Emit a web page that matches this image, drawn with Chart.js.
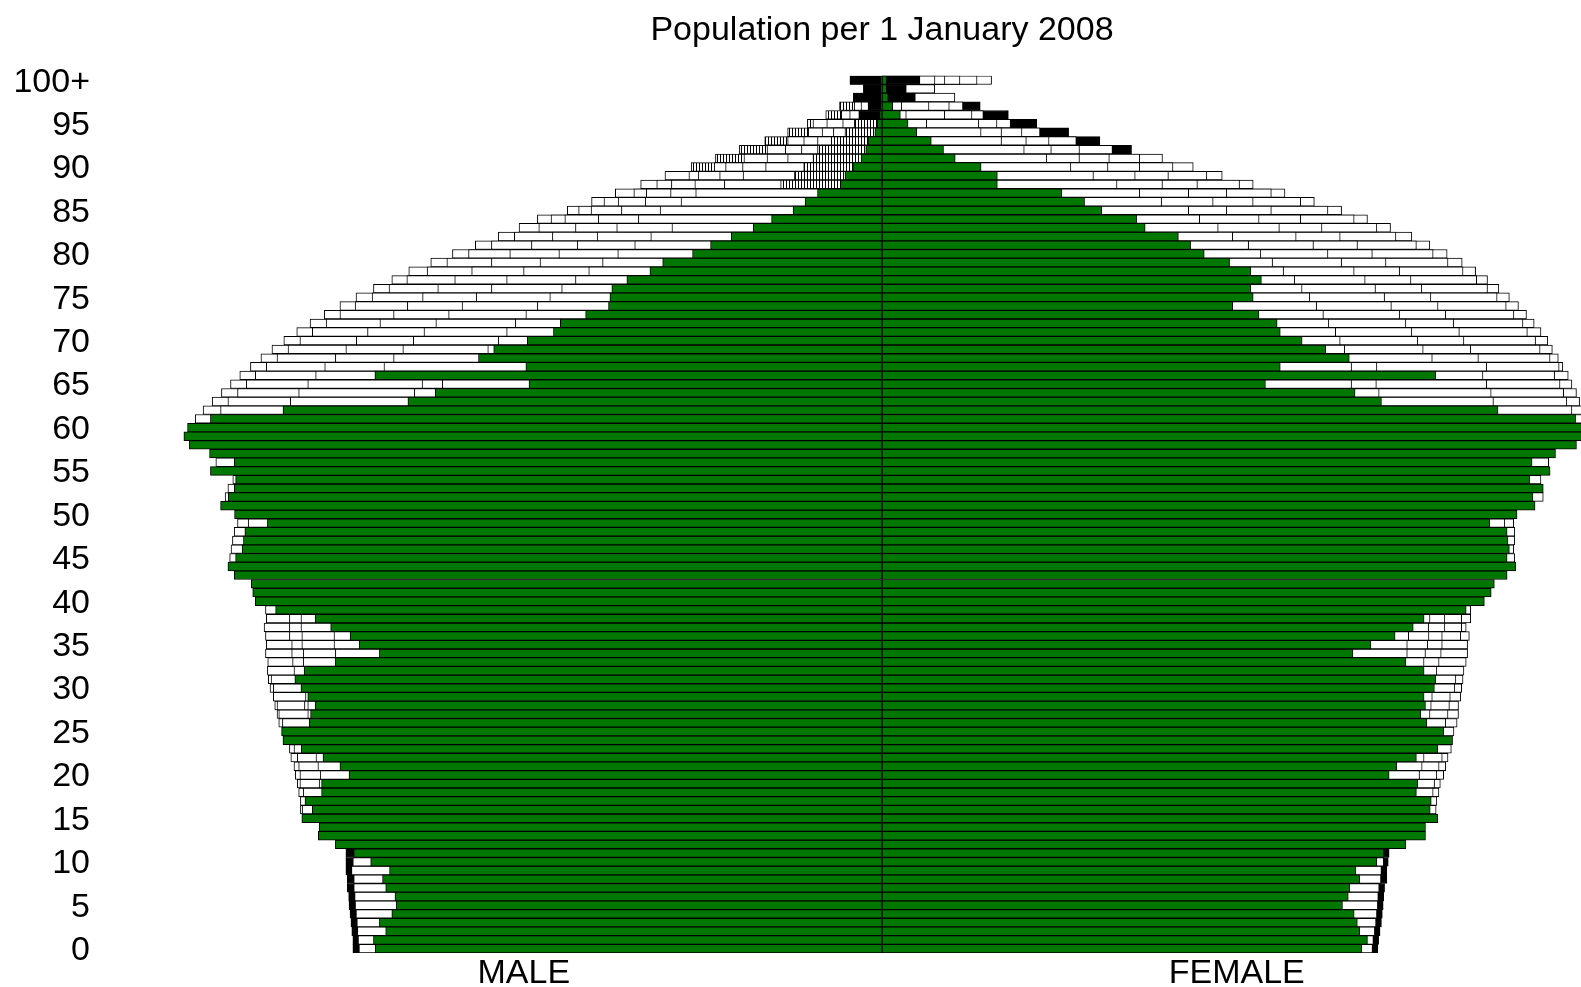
<!DOCTYPE html>
<html>
<head>
<meta charset="utf-8">
<title>Population per 1 January 2008</title>
<script src="https://cdn.jsdelivr.net/npm/chart.js@4.4.0/dist/chart.umd.min.js"></script>
<style>
  html, body { margin: 0; padding: 0; background: #fff; }
  #wrap { width: 1581px; height: 987px; position: relative; }
</style>
</head>
<body>
<div id="wrap"><canvas id="pyramid"></canvas></div>
<script>
// population in thousands, index = age (0 .. 100+)
var titleText = 'Population per 1 January 2008';
var sideLabels = ['MALE', 'FEMALE'];
var sideTickValues = [-20.5, 20.3];
var ageLabels = [];
for (var a = 0; a <= 100; a++) ageLabels.push(a === 100 ? '100+' : String(a));

// 2008 (green)
var maleGreen = [
  29.00, 29.10, 28.40, 28.76, 28.05, 27.79, 27.87, 28.40, 28.58, 28.18,
  29.26, 30.23, 31.28, 32.26, 32.21, 33.20, 32.60, 33.02, 32.07, 32.07,
  30.50, 31.02, 31.99, 33.23, 34.28, 34.36, 32.78, 32.70, 32.44, 32.86,
  33.25, 33.60, 33.07, 31.28, 28.76, 29.92, 30.44, 31.55, 32.44, 34.70,
  35.86, 36.01, 36.09, 37.07, 37.43, 36.99, 36.62, 36.54, 36.46, 35.17,
  37.05, 37.85, 37.41, 37.07, 36.99, 38.43, 37.07, 38.48, 39.64, 39.95,
  39.74, 38.43, 34.28, 27.13, 25.56, 20.20, 29.02, 20.38, 23.09, 22.22,
  20.30, 18.80, 18.41, 16.96, 15.65, 15.57, 15.46, 14.60, 13.28, 12.55,
  10.84, 9.81, 8.63, 7.37, 6.32, 5.09, 4.40, 3.69, 2.38, 2.12,
  1.67, 1.20, 0.93, 0.80, 0.41, 0.27, 0.14, 0.07, 0.05, 0.05,
  0.05
];
var femaleGreen = [
  27.46, 27.78, 27.34, 27.20, 27.02, 26.35, 26.68, 26.76, 27.34, 27.12,
  28.32, 28.71, 29.98, 31.10, 31.10, 31.80, 31.37, 31.43, 30.58, 30.66,
  29.02, 29.46, 30.58, 31.80, 32.65, 32.14, 31.18, 30.84, 31.10, 31.02,
  31.61, 31.69, 31.02, 29.98, 26.95, 27.98, 29.36, 30.40, 31.02, 33.43,
  34.47, 34.86, 35.04, 35.77, 36.27, 35.77, 35.90, 35.82, 35.77, 34.78,
  36.34, 37.37, 37.25, 37.84, 37.06, 38.23, 37.20, 38.54, 39.74, 40.60,
  40.50, 39.69, 35.25, 28.58, 27.07, 21.94, 31.69, 22.79, 26.74, 25.39,
  24.04, 22.79, 22.61, 21.57, 20.07, 21.24, 21.11, 21.71, 21.11, 19.89,
  18.44, 17.66, 16.96, 15.06, 14.57, 12.57, 11.59, 10.29, 6.60, 6.60,
  5.67, 4.19, 3.52, 2.82, 1.99, 1.49, 1.05, 0.61, 0.35, 0.27,
  0.27
];

// earlier sizes of each cohort (white bars), outermost first
var maleEnv = [
  30.28, 30.28, 30.34, 30.39, 30.44, 30.50, 30.52, 30.60, 30.60, 30.68,
  30.68, 30.68, null, null, null, null, 33.28, 33.28, 33.38, 33.46,
  33.57, 33.65, 33.83, 33.91, null, null, 34.52, 34.62, 34.75, 34.83,
  35.02, 35.12, 35.17, 35.15, 35.28, 35.23, 35.28, 35.36, 35.23, 35.28,
  null, null, null, null, null, 37.33, 37.25, 37.17, 37.07, 36.88,
  null, null, 37.59, 37.43, 37.15, null, 38.12, null, null, null,
  null, 39.30, 38.85, 38.33, 37.80, 37.28, 36.75, 36.14, 35.54, 34.91,
  34.23, 33.49, 32.73, 31.91, 31.02, 30.10, 29.10, 28.05, 27.08, 25.82,
  24.58, 23.27, 21.96, 20.77, 19.72, 18.01, 16.62, 15.26, 13.81, 12.42,
  10.92, 9.53, 8.16, 6.71, 5.40, 4.27, 3.22, 2.43, 1.64, 1.06,
  1.83
];
var maleW1 = [
  29.93, 29.98, 30.02, 30.05, 30.10, 30.15, 30.18, 30.23, 30.23, 30.36,
  30.28, null, null, null, null, null, 33.18, null, 33.12, 33.31,
  33.31, 33.38, 33.46, 33.65, null, null, 34.31, 34.52, 34.62, 32.99,
  34.83, 34.96, 33.65, 33.73, 33.78, 33.78, 33.91, 33.91, 33.91, null,
  null, null, null, null, null, null, null, null, null, 36.27,
  null, null, null, null, null, null, null, null, null, null,
  null, null, 37.85, 37.43, 36.88, 36.38, 35.86, 35.23, 34.62, 33.99,
  33.31, 32.60, 31.81, 31.02, 30.15, 29.18, 28.21, 27.19, 26.03, 24.90,
  23.66, 22.35, 21.04, 19.64, 18.94, 17.36, 15.91, 14.20, 12.89, 11.05,
  9.60, 7.90, 6.58, 5.40, 4.22, 3.95, 2.33, 1.59, null, null,
  null
];
var maleW2 = [
  null, null, null, null, null, null, null, null, null, null,
  null, null, null, null, null, null, null, null, null, 32.21,
  32.15, 32.28, 32.39, null, null, null, null, 32.86, 33.05, null,
  null, null, null, 33.12, 33.12, 33.20, 33.20, 33.25, 33.25, null,
  null, null, null, null, null, null, null, null, null, null,
  null, null, null, null, null, null, null, null, null, null,
  null, null, null, 33.86, 33.38, 32.86, 32.41, 31.89, 31.28, 30.68,
  30.08, 29.44, 28.73, 27.95, 27.16, 26.29, 25.42, 24.45, 23.48, 22.35,
  21.30, 20.06, 18.86, 17.54, 18.15, 16.65, 15.10, 13.49, 12.05, 10.52,
  8.95, 6.58, 5.53, 4.48, 3.43, 3.16, 1.85, 1.20, null, null,
  null
];
var maleW3 = [
  null, null, null, null, null, null, null, null, null, null,
  null, null, null, null, null, null, null, null, null, null,
  null, null, null, null, null, null, null, null, 32.86, null,
  null, null, null, null, 31.28, 31.36, 31.36, null, null, null,
  null, null, null, null, null, null, null, null, null, null,
  null, null, null, null, null, null, null, null, null, null,
  null, null, null, null, 26.76, 26.32, null, 28.50, 27.95, 27.42,
  26.82, 26.21, 25.53, 24.80, 24.03, 23.22, 22.35, 21.48, 20.51, 19.57,
  18.49, 17.44, 16.30, 15.18, 16.23, 14.91, 13.55, 12.10, 10.71, 9.29,
  7.98, 5.40, 4.61, 3.69, 2.78, 2.25, null, null, null, null,
  null
];
var maleW4 = [
  null, null, null, null, null, null, null, null, null, null,
  null, null, null, null, null, null, null, null, null, null,
  null, null, null, null, null, null, null, null, null, null,
  null, null, null, null, null, null, null, null, null, null,
  null, null, null, null, null, null, null, null, null, null,
  null, null, null, null, null, null, null, null, null, null,
  null, null, null, null, null, 25.16, null, null, null, 22.56,
  21.96, 21.48, 20.98, 20.38, 19.72, 19.01, 18.33, 17.54, 16.78, 15.99,
  15.12, 14.15, 13.23, 12.02, 13.94, 12.70, 11.50, 10.66, 9.02, 7.95,
  6.66, null, null, null, null, null, null, null, null, null,
  null
];
var maleDark = [
  null, null, null, null, null, null, null, null, null, null,
  null, null, null, null, null, null, null, null, null, null,
  null, null, null, null, null, null, null, null, null, null,
  null, null, null, null, null, null, null, null, null, null,
  null, null, null, null, null, null, null, null, null, null,
  null, null, null, null, null, null, null, null, null, null,
  null, null, null, null, null, null, null, null, null, null,
  null, null, null, null, null, null, null, null, null, null,
  null, null, null, null, null, null, null, null, 5.80, 5.01,
  4.48, 3.95, 3.69, 2.91, 2.12, 1.59, 1.33, 0.80, 1.64, 1.06,
  1.83
];

var femaleEnv = [
  28.37, 28.42, 28.50, 28.58, 28.63, 28.68, 28.71, 28.76, 28.89, 28.89,
  28.97, 29.02, null, null, null, null, 31.71, 31.75, 31.87, 31.95,
  32.14, 32.26, 32.39, 32.58, null, 32.73, 32.91, 32.99, 32.99, 33.12,
  33.17, 33.25, 33.30, 33.43, 33.51, 33.51, 33.61, 33.43, 33.69, 33.69,
  null, null, null, null, null, 36.21, 36.15, 36.21, 36.21, 36.15,
  null, null, 37.84, null, 37.71, null, 38.15, null, null, null,
  null, 40.30, 40.30, 39.92, 39.74, 39.48, 39.27, 38.96, 38.70, 38.36,
  38.10, 37.71, 37.32, 36.88, 36.42, 35.90, 35.30, 34.65, 33.97, 33.20,
  32.34, 31.35, 30.32, 29.10, 27.78, 26.30, 24.74, 23.06, 21.24, 19.47,
  17.81, 16.05, 14.28, 12.47, 10.68, 8.86, 7.23, 5.62, 4.17, 3.02,
  6.27
];
var femaleW1 = [
  28.07, 28.12, 28.20, 28.27, 28.32, 28.37, 28.40, 28.45, 28.55, 28.58,
  28.71, null, null, null, null, null, null, null, 31.54, 31.62,
  31.75, 31.88, 32.06, null, null, null, 32.26, 32.39, 32.47, 32.52,
  32.78, 32.84, 31.75, 31.88, 32.00, 32.06, 33.12, 33.17, 33.17, null,
  null, null, null, null, null, null, null, null, null, 35.64,
  null, null, null, null, null, null, null, null, null, null,
  null, null, 39.48, 39.19, 39.01, 38.80, 38.49, 38.75, 38.23, 37.66,
  37.40, 36.93, 36.68, 36.16, 35.72, 35.20, 34.65, 34.03, 33.25, 32.39,
  31.54, 30.58, 29.41, 28.32, 27.02, 25.52, 23.96, 22.28, 20.46, 18.59,
  16.65, 14.75, 13.19, 11.12, 9.04, 7.36, 5.80, 4.63, null, null,
  5.44
];
var femaleW2 = [
  null, null, null, null, null, null, null, null, null, null,
  null, null, null, null, null, null, null, null, null, null,
  30.76, 30.91, 31.02, null, null, null, null, 31.36, 31.43, 31.49,
  null, null, null, 31.02, 31.10, 31.23, 32.06, 32.21, 32.21, null,
  null, null, null, null, null, null, null, null, null, null,
  null, null, null, null, null, null, null, null, null, null,
  null, null, null, 34.99, 34.86, 34.60, 34.39, 34.60, 34.13, 33.69,
  33.30, 33.04, 32.71, 32.26, 31.82, 31.41, 30.89, 30.27, 29.62, 28.84,
  28.06, 27.21, 26.22, 25.18, 23.96, 22.28, 21.24, 19.73, 18.05, 16.39,
  14.75, 13.01, 11.30, 9.56, 8.01, 6.58, 5.15, 3.85, null, null,
  4.46
];
var femaleW3 = [
  null, null, null, null, null, null, null, null, null, null,
  null, null, null, null, null, null, null, null, null, null,
  null, null, null, null, null, null, null, null, null, null,
  null, null, null, null, 30.06, 30.06, 31.30, 31.28, 31.36, null,
  null, null, null, null, null, null, null, null, null, null,
  null, null, null, null, null, null, null, null, null, null,
  null, null, null, null, 28.45, 28.29, null, 28.32, 31.49, 30.97,
  30.66, 30.32, 29.98, 29.62, 29.15, 28.76, 28.24, 27.65, 27.02, 26.30,
  25.52, 24.69, 23.70, 22.74, 21.58, 19.73, 18.95, 17.55, 16.05, 14.49,
  12.93, 11.30, 9.69, 8.26, 6.84, 5.54, 3.59, 2.69, null, null,
  3.60
];
var femaleW4 = [
  null, null, null, null, null, null, null, null, null, null,
  null, null, null, null, null, null, null, null, null, null,
  null, null, null, null, null, null, null, null, null, null,
  null, null, null, null, null, null, 30.14, null, null, null,
  null, null, null, null, null, null, null, null, null, null,
  null, null, null, null, null, null, null, null, null, null,
  null, null, null, null, null, 26.87, null, 26.87, null, 26.48,
  26.22, 25.96, 25.57, 25.26, 24.87, 24.48, 24.04, 23.62, 22.98, 22.35,
  21.68, 20.98, 20.07, 19.24, 18.18, 17.55, 16.00, 14.75, 13.45, 12.10,
  10.81, 9.43, 8.14, 6.84, 5.67, 2.56, 1.39, 1.13, null, null,
  3.03
];
var femaleDark = [
  null, null, null, null, null, null, null, null, null, null,
  null, null, null, null, null, null, null, null, null, null,
  null, null, null, null, null, null, null, null, null, null,
  null, null, null, null, null, null, null, null, null, null,
  null, null, null, null, null, null, null, null, null, null,
  null, null, null, null, null, null, null, null, null, null,
  null, null, null, null, null, null, null, null, null, null,
  null, null, null, null, null, null, null, null, null, null,
  null, null, null, null, null, null, null, null, null, null,
  null, null, null, null, null, null, null, null, 1.91, 1.39,
  2.17
];

var GREEN = '#007800';
var FONT = '"Liberation Sans", Arial, sans-serif';

// thin vertical hatching for the dense zones where many cohort lines pile up
function makeStripes() {
  var c = document.createElement('canvas');
  c.width = 3; c.height = 1;
  var g = c.getContext('2d');
  g.fillStyle = '#fff'; g.fillRect(0, 0, 3, 1);
  g.fillStyle = '#000'; g.fillRect(0, 0, 1, 1);
  return g.createPattern(c, 'repeat');
}
var stripes = makeStripes();

function maleOuterColor(age) {
  if (age <= 11 || age >= 98) return '#000';
  if (age >= 90) return stripes;
  return '#fff';
}
function femaleOuterColor(age) {
  if (age <= 11 || (age >= 92 && age <= 97)) return '#000';
  return '#fff';
}
function maleDarkColor(age) {
  return age >= 96 ? '#000' : stripes;
}

function bar(label, values, sign, color) {
  return {
    label: label,
    data: values.map(function (v) { return v == null ? null : sign * v; }),
    backgroundColor: typeof color === 'function'
      ? function (ctx) { return color(ctx.dataIndex); }
      : color,
    borderColor: '#000',
    borderWidth: 1,
    borderSkipped: false,
    grouped: false,
    barPercentage: 1,
    categoryPercentage: 1
  };
}

// first dataset is drawn on top
var datasets = [
  bar('male 2008', maleGreen, -1, GREEN),
  bar('female 2008', femaleGreen, 1, GREEN),
  bar('male dense', maleDark, -1, maleDarkColor),
  bar('female dense', femaleDark, 1, '#000'),
  bar('male w4', maleW4, -1, '#fff'),
  bar('female w4', femaleW4, 1, '#fff'),
  bar('male w3', maleW3, -1, '#fff'),
  bar('female w3', femaleW3, 1, '#fff'),
  bar('male w2', maleW2, -1, '#fff'),
  bar('female w2', femaleW2, 1, '#fff'),
  bar('male w1', maleW1, -1, '#fff'),
  bar('female w1', femaleW1, 1, '#fff'),
  bar('male outer', maleEnv, -1, maleOuterColor),
  bar('female outer', femaleEnv, 1, femaleOuterColor)
];

var ctx = document.getElementById('pyramid');
var chart = new Chart(ctx, {
  type: 'bar',
  data: { labels: ageLabels, datasets: datasets },
  options: {
    indexAxis: 'y',
    responsive: true,
    maintainAspectRatio: false,
    animation: false,
    layout: { padding: 0 },
    plugins: {
      legend: { display: false },
      tooltip: { enabled: false },
      title: {
        display: true,
        text: titleText,
        fullSize: false,
        color: '#000',
        font: { family: FONT, size: 34, weight: 'normal', lineHeight: 1.2 },
        padding: { top: 10, bottom: 25 }
      }
    },
    scales: {
      x: {
        type: 'linear',
        min: -40,
        max: 40,
        grid: { display: false, drawTicks: false },
        border: { display: false },
        afterBuildTicks: function (s) {
          s.ticks = sideTickValues.map(function (v) { return { value: v }; });
        },
        afterFit: function (s) { s.height = 34; },
        ticks: {
          autoSkip: false,
          maxRotation: 0,
          padding: 4,
          color: '#000',
          font: { family: FONT, size: 34, lineHeight: 1 },
          callback: function (v, i) { return sideLabels[i]; }
        }
      },
      y: {
        reverse: true,
        grid: { display: false, drawTicks: false },
        border: { display: false },
        afterFit: function (s) {
          s.width = 183;
          s.paddingTop = 0;
          s.paddingBottom = 0;
        },
        ticks: {
          autoSkip: false,
          padding: 93,
          labelOffset: 2,
          color: '#000',
          font: { family: FONT, size: 34, lineHeight: 1.2 },
          callback: function (v, i) { return i % 5 === 0 ? ageLabels[i] : ''; }
        }
      }
    }
  }
});
</script>
</body>
</html>
